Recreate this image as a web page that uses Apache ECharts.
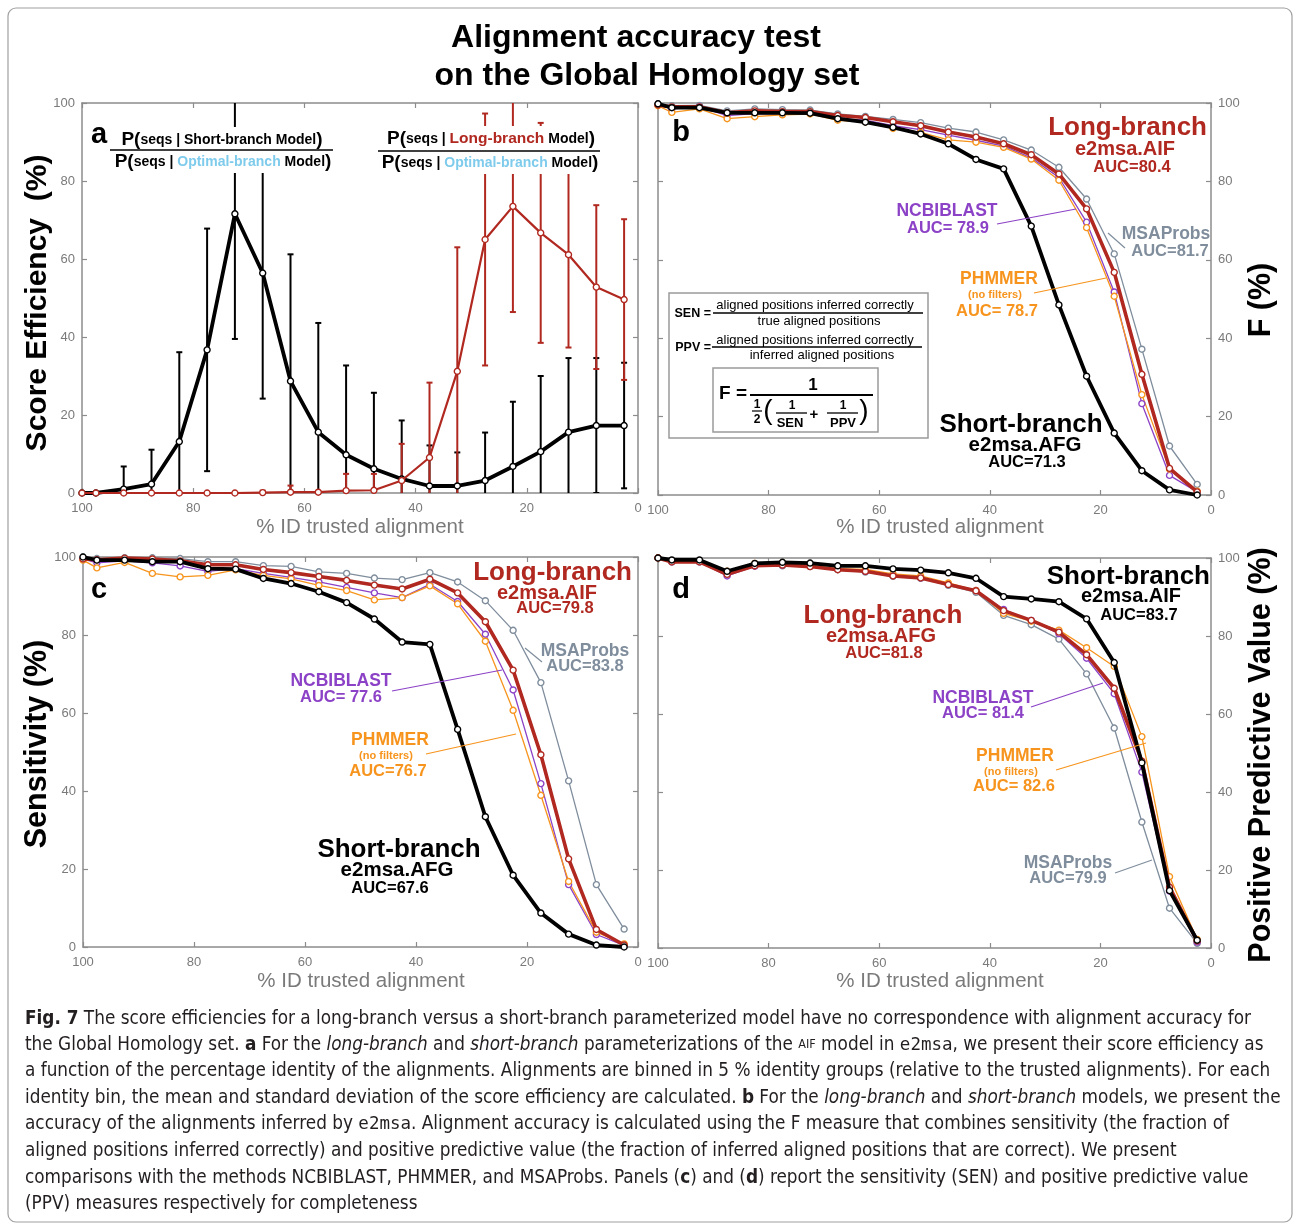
<!DOCTYPE html>
<html>
<head>
<meta charset="UTF-8">
<title>Alignment accuracy test</title>
<script src="https://cdn.jsdelivr.net/npm/echarts@6/dist/echarts.min.js"></script>
<style>
  html, body { margin: 0; padding: 0; background: #fff; }
  #chart { width: 1294px; height: 1226px; }
</style>
</head>
<body>
<div id="chart"></div>
<script>
// % ID bins (x positions of the points)
var bins = [100, 97.5, 92.5, 87.5, 82.5, 77.5, 72.5, 67.5, 62.5, 57.5, 52.5, 47.5, 42.5, 37.5, 32.5, 27.5, 22.5, 17.5, 12.5, 7.5, 2.5];

// panel a : score efficiency (mean, std)
var shortEff = [0, 0, 1, 2.3, 13.2, 36.7, 71.6, 56.4, 28.7, 15.6, 9.8, 6.2, 3.6, 1.8, 1.8, 3.2, 6.8, 10.6, 15.6, 17.3, 17.3];
var shortStd = [0, 0, 5.8, 8.8, 22.9, 31.1, 32.1, 32.2, 32.5, 28, 22.9, 19.5, 15, 10.4, 8.6, 12.3, 16.6, 19.4, 19, 17.3, 16.1];
var longEff = [0, 0, 0, 0, 0, 0, 0, 0.1, 0.2, 0.2, 0.6, 0.7, 3.2, 9.1, 31.2, 65, 73.5, 66.7, 61.1, 52.8, 49.6];
var longStd = [0, 0, 0, 0, 0, 0, 0, 0.5, 1.7, 0, 4.3, 4.2, 9.4, 19.2, 31.8, 32.3, 27.1, 28.2, 23.8, 21, 20.6];

// panel b : F
var fShort = [99.8, 98.8, 98.8, 97.5, 97.5, 97.5, 97.4, 96.0, 95.1, 93.8, 92.1, 89.6, 85.6, 83.2, 68.6, 48.5, 30.3, 15.8, 6.2, 1.3, 0];
var fLong = [99.5, 99.0, 99.0, 97.5, 98.0, 97.8, 97.8, 96.8, 96.3, 95.2, 94.2, 92.6, 91.3, 89.6, 86.8, 81.9, 73.0, 56.8, 30.8, 6.8, 0.8];
var fBlast = [99.5, 98.5, 99.0, 96.8, 97.3, 97.2, 97.4, 96.0, 95.6, 94.2, 93.2, 91.8, 90.5, 89.0, 86.0, 81.0, 69.6, 51.8, 23.3, 5.0, 0.8];
var fPhmmer = [99.3, 97.6, 98.5, 96.0, 96.5, 97.0, 97.2, 95.6, 95.2, 93.5, 92.5, 90.6, 90.0, 88.7, 85.7, 80.3, 68.2, 50.7, 25.6, 6.6, 1.0];
var fMsa = [99.8, 99.3, 99.4, 98.0, 98.5, 98.3, 98.2, 97.2, 96.6, 95.8, 95.0, 93.6, 92.6, 90.6, 88.0, 83.6, 75.5, 61.5, 37.2, 12.5, 2.7];

// panel c : sensitivity
var senShort = [100, 99.2, 99.2, 98.8, 98.8, 97.0, 96.9, 94.5, 93.2, 91.1, 88.3, 84.1, 78.2, 77.6, 55.8, 33.4, 18.4, 8.7, 3.3, 0.5, 0];
var senLong = [99.5, 99.3, 99.7, 99.5, 99.0, 98.0, 98.0, 96.8, 96.0, 95.0, 94.0, 92.8, 91.8, 94.3, 90.8, 83.4, 71.0, 49.3, 22.6, 4.5, 0.5];
var senBlast = [99.5, 98.5, 99.0, 98.5, 97.7, 96.3, 97.0, 95.8, 94.8, 93.6, 92.2, 90.8, 89.6, 93.0, 88.6, 80.2, 65.9, 41.9, 16.0, 3.2, 0.4];
var senPhmmer = [99.2, 97.2, 98.6, 95.8, 94.9, 95.3, 96.7, 95.3, 94.4, 92.7, 91.4, 89.0, 89.6, 92.6, 88.0, 78.4, 60.7, 38.9, 16.8, 3.8, 0.8];
var senMsa = [100, 99.6, 99.8, 99.8, 99.6, 98.8, 98.8, 97.8, 97.6, 96.2, 95.8, 94.6, 94.2, 96.0, 93.6, 88.8, 81.2, 67.8, 42.6, 16.0, 4.6];

// panel d : positive predictive value
var ppvShort = [100, 99.5, 99.5, 96.6, 98.6, 98.9, 98.7, 98.0, 98.0, 97.2, 96.9, 96.2, 94.8, 90.1, 89.5, 88.8, 84.4, 73.2, 47.5, 14.7, 2.0];
var ppvLong = [100, 99.0, 99.0, 95.8, 98.0, 98.2, 97.8, 97.0, 96.6, 95.4, 94.9, 93.2, 91.6, 86.5, 84.0, 81.0, 75.2, 66.6, 47.9, 15.6, 1.8];
var ppvBlast = [100, 99.0, 99.0, 95.4, 97.9, 98.2, 97.9, 97.2, 96.6, 95.6, 94.9, 93.3, 91.7, 86.8, 84.0, 80.6, 74.3, 65.2, 45.1, 14.6, 1.5];
var ppvPhmmer = [100, 99.2, 99.2, 96.6, 98.6, 98.8, 98.2, 97.3, 97.1, 95.9, 95.4, 93.6, 91.7, 85.8, 83.8, 81.5, 77.0, 72.2, 54.2, 18.3, 2.2];
var ppvMsa = [100, 99.0, 99.0, 96.0, 98.0, 98.0, 97.8, 97.0, 96.4, 95.3, 94.8, 93.0, 91.2, 85.3, 82.9, 79.2, 70.3, 56.4, 32.3, 10.2, 1.2];

var RED = '#b0281f', PURPLE = '#8c42c6', ORANGE = '#f7941d', GREY = '#7f8d9c', BLUE = '#7ecbec';
var AXC = '#8c8c8c';
var FONT = "'Liberation Sans', Arial, sans-serif";
var CAPFONT = "'DejaVu Sans Condensed', 'Liberation Sans Narrow', sans-serif";

var myChart = echarts.init(document.getElementById('chart'));

// plot boxes
var panels = [
  { left: 82, top: 103, width: 556, height: 390, side: 'left' },
  { left: 658, top: 103, width: 553, height: 392, side: 'right' },
  { left: 83, top: 557, width: 555, height: 390, side: 'left' },
  { left: 658, top: 558, width: 553, height: 390, side: 'right' }
];

var grids = [], xAxes = [], yAxes = [];
panels.forEach(function (p, i) {
  grids.push({ left: p.left, top: p.top, width: p.width, height: p.height });
  var base = {
    gridIndex: i, type: 'value', min: 0, max: 100, interval: 20,
    axisLine: { show: true, onZero: false, lineStyle: { color: AXC, width: 1.5 } },
    axisTick: { show: true, inside: true, length: 5, lineStyle: { color: AXC, width: 1.2 } },
    axisLabel: { show: true, color: '#7a7a7a', fontSize: 13, fontFamily: FONT },
    splitLine: { show: false }
  };
  xAxes.push(echarts.util.merge({ position: 'bottom', inverse: true, axisLabel: { margin: 9 } }, base, false));
  xAxes.push(echarts.util.merge({ position: 'top', inverse: true, axisLabel: { show: false } }, base, false));
  yAxes.push(echarts.util.merge({ position: 'left', axisLabel: { show: p.side == 'left', margin: 7 } }, base, false));
  yAxes.push(echarts.util.merge({ position: 'right', axisLabel: { show: p.side == 'right', margin: 7 } }, base, false));
});

function pts(arr) {
  return bins.map(function (x, i) { return [x, arr[i]]; });
}

function line(panel, arr, color, width, z) {
  return {
    type: 'line', xAxisIndex: panel * 2, yAxisIndex: panel * 2,
    data: pts(arr), symbol: 'circle', symbolSize: 6, showSymbol: true,
    lineStyle: { color: color, width: width },
    itemStyle: { color: '#fff', borderColor: color, borderWidth: 1.4 },
    z: z, silent: true, animation: false
  };
}

// error bars (mean +- std)
function errBars(mean, std, color) {
  return {
    type: 'custom', xAxisIndex: 0, yAxisIndex: 0, clip: true, silent: true, z: 1,
    data: bins.map(function (x, i) { return [x, mean[i] - std[i], mean[i] + std[i], std[i]]; }),
    renderItem: function (params, api) {
      if (api.value(3) <= 0) return null;
      var lo = api.coord([api.value(0), api.value(1)]);
      var hi = api.coord([api.value(0), api.value(2)]);
      var st = { stroke: color, lineWidth: 2 };
      return {
        type: 'group', children: [
          { type: 'line', shape: { x1: lo[0], y1: lo[1], x2: hi[0], y2: hi[1] }, style: st },
          { type: 'line', shape: { x1: lo[0] - 3, y1: lo[1], x2: lo[0] + 3, y2: lo[1] }, style: st },
          { type: 'line', shape: { x1: hi[0] - 3, y1: hi[1], x2: hi[0] + 3, y2: hi[1] }, style: st }
        ]
      };
    }
  };
}

var series = [
  errBars(shortEff, shortStd, '#000'),
  errBars(longEff, longStd, RED),
  line(0, shortEff, '#000', 3.8, 3),
  line(0, longEff, RED, 2.2, 4),

  line(1, fMsa, GREY, 1.3, 3),
  line(1, fBlast, PURPLE, 1.3, 3),
  line(1, fPhmmer, ORANGE, 1.3, 3),
  line(1, fLong, RED, 3.6, 4),
  line(1, fShort, '#000', 3.8, 5),

  line(2, senMsa, GREY, 1.3, 3),
  line(2, senBlast, PURPLE, 1.3, 3),
  line(2, senPhmmer, ORANGE, 1.3, 3),
  line(2, senLong, RED, 3.6, 4),
  line(2, senShort, '#000', 3.8, 5),

  line(3, ppvMsa, GREY, 1.3, 3),
  line(3, ppvBlast, PURPLE, 1.3, 3),
  line(3, ppvPhmmer, ORANGE, 1.3, 3),
  line(3, ppvLong, RED, 3.6, 4),
  line(3, ppvShort, '#000', 3.8, 5)
];

// text helpers
function T(x, y, text, size, color, bold, align, extra) {
  var el = {
    type: 'text', x: x, y: y, z: 100, silent: true,
    style: {
      text: text, fill: color, fontSize: size, fontFamily: FONT,
      fontWeight: bold ? 'bold' : 'normal', textAlign: align || 'center', textVerticalAlign: 'middle'
    }
  };
  if (extra) echarts.util.merge(el, extra, true);
  return el;
}
function L(x1, y1, x2, y2, color, w) {
  return { type: 'line', z: 100, silent: true, shape: { x1: x1, y1: y1, x2: x2, y2: y2 }, style: { stroke: color, lineWidth: w || 1.2 } };
}
function R(x, y, w, h, stroke, lw) {
  return { type: 'rect', z: 99, silent: true, shape: { x: x, y: y, width: w, height: h }, style: { fill: '#fff', stroke: stroke, lineWidth: lw || 0 } };
}
function rot(x, y, text, size) {
  return T(x, y, text, size, '#000', true, 'center', { rotation: Math.PI / 2 });
}

var fracRich = {
  p: { fontSize: 19, fontWeight: 'bold', fontFamily: FONT, fill: '#000' },
  s: { fontSize: 14, fontWeight: 'bold', fontFamily: FONT, fill: '#000' },
  o: { fontSize: 14, fontWeight: 'bold', fontFamily: FONT, fill: BLUE },
  r: { fontSize: 15.5, fontWeight: 'bold', fontFamily: FONT, fill: RED }
};
function F(x, y, text) {
  return { type: 'text', x: x, y: y, z: 101, silent: true,
    style: { text: text, rich: fracRich, textAlign: 'center', textVerticalAlign: 'middle', fontFamily: FONT } };
}

var g = [];
// outer frame
g.push({ type: 'rect', z: 0, silent: true, shape: { x: 8, y: 8, width: 1284, height: 1214, r: 8 }, style: { fill: 'none', stroke: '#a0a0a0', lineWidth: 1.2 } });

// title
g.push(T(636, 38, 'Alignment accuracy test', 32, '#000', true));
g.push(T(647, 76, 'on the Global Homology set', 32, '#000', true));

// axis names
g.push(T(360, 527, '% ID trusted alignment', 20.5, '#7a7a7a', false));
g.push(T(940, 527, '% ID trusted alignment', 20.5, '#7a7a7a', false));
g.push(T(361, 981, '% ID trusted alignment', 20.5, '#7a7a7a', false));
g.push(T(940, 981, '% ID trusted alignment', 20.5, '#7a7a7a', false));
g.push(rot(38, 303, 'Score Efficiency  (%)', 30));
g.push(rot(38, 744, 'Sensitivity (%)', 30.5));
g.push(rot(1262, 300, 'F (%)', 30.5));
g.push(rot(1262, 755, 'Positive Predictive Value (%)', 30.5));

// panel letters
g.push(T(99, 135, 'a', 29, '#000', true));
g.push(T(681, 133, 'b', 29, '#000', true));
g.push(T(99, 590, 'c', 29, '#000', true));
g.push(T(681, 590, 'd', 29, '#000', true));

// panel a fractions
g.push(R(108, 127, 228, 46, null));
g.push(R(376, 126, 226, 48, null));
g.push(F(222, 140, '{p|P(}{s|seqs | Short-branch Model}{p|)}'));
g.push(L(110, 150, 333, 150, '#000', 1.6));
g.push(F(223, 162, '{p|P(}{s|seqs | }{o|Optimal-branch}{s| Model}{p|)}'));
g.push(F(491, 139, '{p|P(}{s|seqs | }{r|Long-branch}{s| Model}{p|)}'));
g.push(L(378, 151, 600, 151, '#000', 1.6));
g.push(F(490, 163, '{p|P(}{s|seqs | }{o|Optimal-branch}{s| Model}{p|)}'));

// panel b labels
g.push(T(1207, 128, 'Long-branch', 26, RED, true, 'right'));
g.push(T(1125, 149, 'e2msa.AIF', 20, RED, true));
g.push(T(1132, 167, 'AUC=80.4', 16.5, RED, true));
g.push(T(947, 211, 'NCBIBLAST', 17.5, PURPLE, true));
g.push(T(948, 228, 'AUC= 78.9', 16.5, PURPLE, true));
g.push(L(997, 224, 1076, 209, PURPLE));
g.push(T(1166, 234, 'MSAProbs', 17.5, GREY, true));
g.push(T(1170, 251, 'AUC=81.7', 16.5, GREY, true));
g.push(L(1108, 233, 1125, 248, GREY));
g.push(T(999, 279, 'PHMMER', 17.5, ORANGE, true));
g.push(T(995, 295, '(no filters)', 11, ORANGE, true));
g.push(T(997, 311, 'AUC= 78.7', 16.5, ORANGE, true));
g.push(L(1034, 293, 1106, 278, ORANGE));
g.push(T(1021, 425, 'Short-branch', 26, '#000', true));
g.push(T(1025, 445, 'e2msa.AFG', 20.5, '#000', true));
g.push(T(1027, 462, 'AUC=71.3', 16.5, '#000', true));

// formula box
g.push(R(669, 293, 259, 145, '#9a9a9a', 1.5));
g.push(T(711, 314, 'SEN =', 12.5, '#000', true, 'right'));
g.push(T(815, 305, 'aligned positions inferred correctly', 13, '#000', false));
g.push(L(713, 313, 923, 313, '#000', 1.5));
g.push(T(819, 321, 'true aligned positions', 13, '#000', false));
g.push(T(711, 348, 'PPV =', 12.5, '#000', true, 'right'));
g.push(T(815, 340, 'aligned positions inferred correctly', 13, '#000', false));
g.push(L(712, 347, 922, 347, '#000', 1.5));
g.push(T(822, 355, 'inferred aligned positions', 13, '#000', false));
g.push({ type: 'rect', z: 100, silent: true, shape: { x: 713, y: 368, width: 165, height: 64 }, style: { fill: 'none', stroke: '#9a9a9a', lineWidth: 1.5 } });
g.push(T(733, 394, 'F =', 19, '#000', true));
g.push(T(813, 385, '1', 17, '#000', true));
g.push(L(750, 395, 873, 395, '#000', 1.8));
g.push(T(757, 405, '1', 12, '#000', true));
g.push(L(752, 411, 762, 411, '#000', 1.2));
g.push(T(757, 420, '2', 12, '#000', true));
g.push(T(768, 411, '(', 28, '#000', false));
g.push(T(792, 406, '1', 12, '#000', true));
g.push(L(776, 413, 807, 413, '#000', 1.3));
g.push(T(790, 423, 'SEN', 13, '#000', true));
g.push(T(814, 415, '+', 15, '#000', true));
g.push(T(843, 406, '1', 12, '#000', true));
g.push(L(827, 413, 858, 413, '#000', 1.3));
g.push(T(843, 423, 'PPV', 13, '#000', true));
g.push(T(864, 411, ')', 28, '#000', false));

// panel c labels
g.push(T(632, 573, 'Long-branch', 26, RED, true, 'right'));
g.push(T(547, 593, 'e2msa.AIF', 20, RED, true));
g.push(T(555, 608, 'AUC=79.8', 16.5, RED, true));
g.push(T(585, 651, 'MSAProbs', 17.5, GREY, true));
g.push(T(585, 666, 'AUC=83.8', 16.5, GREY, true));
g.push(L(525, 648, 542, 662, GREY));
g.push(T(341, 681, 'NCBIBLAST', 17.5, PURPLE, true));
g.push(T(341, 697, 'AUC= 77.6', 16.5, PURPLE, true));
g.push(L(392, 691, 502, 670, PURPLE));
g.push(T(390, 740, 'PHMMER', 17.5, ORANGE, true));
g.push(T(386, 756, '(no filters)', 11, ORANGE, true));
g.push(T(388, 771, 'AUC=76.7', 16.5, ORANGE, true));
g.push(L(426, 754, 516, 734, ORANGE));
g.push(T(399, 850, 'Short-branch', 26, '#000', true));
g.push(T(397, 870, 'e2msa.AFG', 20.5, '#000', true));
g.push(T(390, 888, 'AUC=67.6', 16.5, '#000', true));

// panel d labels
g.push(T(1210, 577, 'Short-branch', 26, '#000', true, 'right'));
g.push(T(1131, 596, 'e2msa.AIF', 20, '#000', true));
g.push(T(1139, 615, 'AUC=83.7', 16.5, '#000', true));
g.push(T(883, 616, 'Long-branch', 26, RED, true));
g.push(T(881, 636, 'e2msa.AFG', 20, RED, true));
g.push(T(884, 653, 'AUC=81.8', 16.5, RED, true));
g.push(T(983, 698, 'NCBIBLAST', 17.5, PURPLE, true));
g.push(T(983, 713, 'AUC= 81.4', 16.5, PURPLE, true));
g.push(L(1031, 707, 1103, 683, PURPLE));
g.push(T(1015, 756, 'PHMMER', 17.5, ORANGE, true));
g.push(T(1011, 772, '(no filters)', 11, ORANGE, true));
g.push(T(1014, 786, 'AUC= 82.6', 16.5, ORANGE, true));
g.push(L(1056, 770, 1146, 743, ORANGE));
g.push(T(1068, 863, 'MSAProbs', 17.5, GREY, true));
g.push(T(1068, 878, 'AUC=79.9', 16.5, GREY, true));
g.push(L(1115, 873, 1152, 860, GREY));

// caption
var CS = 18.8;
var capRich = {
  n: { fontSize: CS, fontFamily: CAPFONT, fill: '#231f20' },
  b: { fontSize: CS, fontFamily: CAPFONT, fontWeight: 'bold', fill: '#231f20' },
  i: { fontSize: CS, fontFamily: CAPFONT, fontStyle: 'italic', fill: '#231f20' },
  m: { fontSize: 17.5, fontFamily: "'DejaVu Sans Mono', 'Liberation Mono', monospace", fill: '#231f20' },
  sc: { fontSize: 12.5, fontFamily: CAPFONT, fill: '#231f20' }
};
var capLines = [
  '{b|Fig. 7}{n| The score efficiencies for a long-branch versus a short-branch parameterized model have no correspondence with alignment accuracy for}',
  '{n|the Global Homology set. }{b|a}{n| For the }{i|long-branch}{n| and }{i|short-branch}{n| parameterizations of the }{sc|AIF}{n| model in }{m|e2msa}{n|, we present their score efficiency as}',
  '{n|a function of the percentage identity of the alignments. Alignments are binned in 5 % identity groups (relative to the trusted alignments). For each}',
  '{n|identity bin, the mean and standard deviation of the score efficiency are calculated. }{b|b}{n| For the }{i|long-branch}{n| and }{i|short-branch}{n| models, we present the}',
  '{n|accuracy of the alignments inferred by }{m|e2msa}{n|. Alignment accuracy is calculated using the F measure that combines sensitivity (the fraction of}',
  '{n|aligned positions inferred correctly) and positive predictive value (the fraction of inferred aligned positions that are correct). We present}',
  '{n|comparisons with the methods NCBIBLAST, PHMMER, and MSAProbs. Panels (}{b|c}{n|) and (}{b|d}{n|) report the sensitivity (SEN) and positive predictive value}',
  '{n|(PPV) measures respectively for completeness}'
];
var capY = [1019, 1045, 1071, 1098, 1124, 1151, 1178, 1204];
capLines.forEach(function (s, i) {
  g.push({ type: 'text', x: 25, y: capY[i], z: 100, silent: true,
    style: { text: s, rich: capRich, textAlign: 'left', textVerticalAlign: 'middle', fontFamily: CAPFONT } });
});

var option = {
  backgroundColor: '#fff',
  animation: false,
  grid: grids,
  xAxis: xAxes,
  yAxis: yAxes,
  series: series,
  graphic: { elements: g }
};
myChart.setOption(option);
</script>
</body>
</html>
